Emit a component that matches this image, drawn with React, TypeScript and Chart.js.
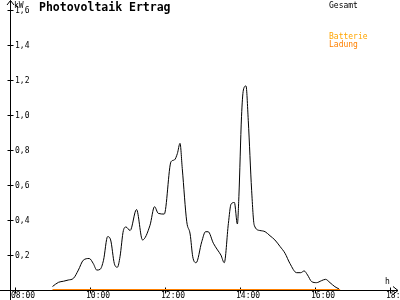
import React, { useEffect, useRef } from "react";
import { Chart, registerables } from "chart.js";

Chart.register(...registerables);

const gesamtHours = [
  9.0, 9.16, 9.29, 9.42, 9.56, 9.69, 9.82, 9.98, 10.09, 10.18, 10.27, 10.36, 10.47, 10.55, 10.65, 10.73, 10.8, 10.89,
  10.96, 11.07, 11.24, 11.4, 11.6, 11.72, 11.82, 11.98, 12.16, 12.25, 12.33, 12.4, 12.46, 12.58, 12.67, 12.74, 12.83,
  12.98, 13.08, 13.15, 13.29, 13.4, 13.49, 13.58, 13.69, 13.76, 13.85, 13.93, 13.97, 14.04, 14.09, 14.16, 14.22, 14.31,
  14.38, 14.53, 14.67, 14.8, 14.93, 15.07, 15.2, 15.33, 15.51, 15.62, 15.71, 15.8, 15.91, 16.04, 16.17, 16.28, 16.4,
  16.53, 16.64,
];
const gesamtValues = [
  0.02, 0.044, 0.05, 0.057, 0.067, 0.114, 0.17, 0.18, 0.15, 0.114, 0.118, 0.17, 0.305, 0.286, 0.15, 0.13, 0.19, 0.34,
  0.36, 0.34, 0.46, 0.286, 0.37, 0.476, 0.438, 0.434, 0.733, 0.743, 0.78, 0.838, 0.695, 0.39, 0.32, 0.19, 0.156, 0.276,
  0.333, 0.333, 0.267, 0.229, 0.2, 0.156, 0.38, 0.49, 0.5, 0.377, 0.533, 0.99, 1.143, 1.166, 0.97, 0.57, 0.37, 0.34,
  0.333, 0.31, 0.286, 0.248, 0.21, 0.152, 0.099, 0.099, 0.109, 0.086, 0.048, 0.042, 0.053, 0.061, 0.042, 0.019, 0.006,
];
const ladungHours = [9.0, 16.67];
const ladungValues = [0, 0];

const xTicks = [8, 10, 12, 14, 16, 18];
const xTickLabels = ["08:00", "10:00", "12:00", "14:00", "16:00", "18:00"];
const yTicks = [0.2, 0.4, 0.6, 0.8, 1.0, 1.2, 1.4, 1.6];
const yTickLabels = ["0,2", "0,4", "0,6", "0,8", "1,0", "1,2", "1,4", "1,6"];

const TITLE = "Photovoltaik Ertrag";
const LEGEND_GESAMT = "Gesamt";
const LEGEND_BATTERIE = "Batterie";
const LEGEND_LADUNG = "Ladung";
const Y_UNIT = "kW";
const X_UNIT = "h";

const SMALL = "8px 'DejaVu Sans Mono'";
const BOLD = "bold 11.5px 'DejaVu Sans Mono'";

const axesPlugin = {
  id: "customAxes",
  beforeDatasetsDraw(chart: any) {
    const ctx = chart.ctx;
    const xs = chart.scales.x;
    const ys = chart.scales.y;
    const x0 = Math.round(xs.left) + 0.5;
    const y0 = Math.round(ys.getPixelForValue(0)) + 0.5;
    ctx.save();
    ctx.strokeStyle = "#000";
    ctx.lineWidth = 1;
    ctx.beginPath();
    // x axis
    ctx.moveTo(0, y0);
    ctx.lineTo(398, y0);
    ctx.moveTo(393, y0 - 4);
    ctx.lineTo(398, y0);
    ctx.lineTo(393, y0 + 4);
    // y axis
    ctx.moveTo(x0, 300);
    ctx.lineTo(x0, 0.5);
    ctx.moveTo(x0 - 3.5, 5);
    ctx.lineTo(x0, 0.5);
    ctx.lineTo(x0 + 3.5, 5);
    // y ticks
    yTicks.forEach((v) => {
      const py = Math.round(ys.getPixelForValue(v)) + 0.5;
      ctx.moveTo(x0 - 3, py);
      ctx.lineTo(x0 + 3, py);
    });
    xTicks.forEach((h) => {
      const px = Math.round(xs.getPixelForValue(h)) + 0.5;
      ctx.moveTo(px, y0 - 3);
      ctx.lineTo(px, y0 + 3);
    });
    ctx.stroke();
    ctx.restore();
  },
  afterDraw(chart: any) {
    const ctx = chart.ctx;
    const xs = chart.scales.x;
    const ys = chart.scales.y;
    const x0 = Math.round(xs.left);
    const y0 = Math.round(ys.getPixelForValue(0));
    ctx.save();
    ctx.fillStyle = "#000";
    ctx.font = SMALL;
    ctx.textAlign = "left";
    ctx.textBaseline = "middle";
    yTicks.forEach((v, i) => {
      const py = Math.round(ys.getPixelForValue(v));
      ctx.fillText(yTickLabels[i], x0 + 5, py + 0.5);
    });
    ctx.textBaseline = "alphabetic";
    xTicks.forEach((h, i) => {
      const px = Math.round(xs.getPixelForValue(h));
      ctx.fillText(xTickLabels[i], px - 4, y0 + 8);
    });
    ctx.fillText(Y_UNIT, x0 + 4, 8);
    ctx.fillText(X_UNIT, 385, 284);
    ctx.fillText(LEGEND_GESAMT, 329, 8);
    ctx.fillStyle = "#FFA500";
    ctx.fillText(LEGEND_BATTERIE, 329, 39);
    ctx.fillStyle = "#FF8000";
    ctx.fillText(LEGEND_LADUNG, 329, 47);
    ctx.fillStyle = "#000";
    ctx.font = BOLD;
    ctx.fillText(TITLE, 39, 11);
    ctx.restore();
  },
};

export default function App() {
  const ref = useRef<HTMLCanvasElement | null>(null);
  useEffect(() => {
    document.body.style.margin = "0";
    if (!ref.current) return;
    const chart = new Chart(ref.current, {
      type: "line",
      data: {
        datasets: [
          {
            label: LEGEND_LADUNG,
            data: ladungHours.map((h, i) => ({ x: h, y: ladungValues[i] })),
            borderColor: "#FF8000",
            borderWidth: 2,
            pointRadius: 0,
            fill: false,
          },
          {
            label: LEGEND_GESAMT,
            data: gesamtHours.map((h, i) => ({ x: h, y: gesamtValues[i] })),
            borderColor: "#000000",
            borderWidth: 1,
            pointRadius: 0,
            fill: false,
            cubicInterpolationMode: "monotone",
          },
        ],
      },
      options: {
        animation: false,
        responsive: false,
        devicePixelRatio: 1,
        layout: { padding: { left: 10, right: 10, top: 10, bottom: 10 } },
        plugins: { legend: { display: false }, tooltip: { enabled: false } },
        scales: {
          x: { type: "linear", min: 8 - 5 / 37.5, max: 18, display: false },
          y: { min: 0, max: 1.6, display: false },
        },
      },
      plugins: [axesPlugin],
    });
    return () => chart.destroy();
  }, []);
  return (
    <div style={{ position: "absolute", left: 0, top: 0, width: 400, height: 300, background: "#fff" }}>
      <canvas ref={ref} width={400} height={300} />
    </div>
  );
}
